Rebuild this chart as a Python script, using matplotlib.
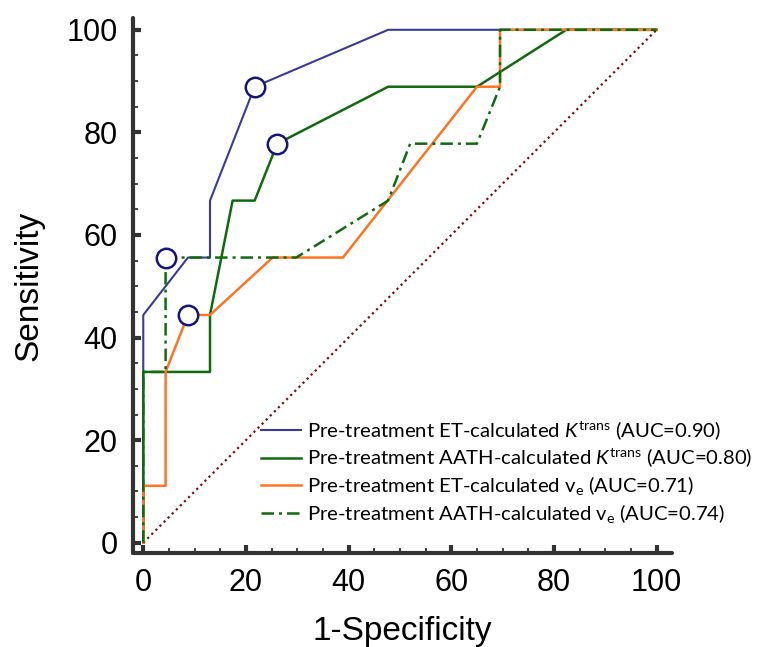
import matplotlib
matplotlib.use('Agg')
import matplotlib.pyplot as plt
from matplotlib.ticker import MultipleLocator

# ROC curves (1-specificity %, sensitivity %)
et_ktrans_x = [0, 0, 8.7, 13.0, 13.0, 21.7, 47.7, 100]
et_ktrans_y = [0, 44.4, 55.6, 55.6, 66.7, 88.9, 100, 100]

aath_ktrans_x = [0, 0, 13.0, 13.0, 17.4, 21.7, 26.1, 47.7, 65.0, 82.4, 100]
aath_ktrans_y = [0, 33.3, 33.3, 44.4, 66.7, 66.7, 77.8, 88.9, 88.9, 100, 100]

et_ve_x = [0, 0, 4.35, 4.35, 8.7, 13.0, 25.2, 38.9, 65.0, 69.5, 69.5, 100]
et_ve_y = [0, 11.1, 11.1, 33.3, 44.4, 44.4, 55.6, 55.6, 88.9, 88.9, 100, 100]

aath_ve_x = [0, 0, 4.35, 4.35, 29.8, 47.7, 52.0, 65.0, 69.5, 69.5, 100]
aath_ve_y = [0, 33.3, 33.3, 55.6, 55.6, 66.7, 77.8, 77.8, 88.9, 100, 100]

# optimal cut-off points
cut_x = [21.7, 26.1, 4.35, 8.7]
cut_y = [88.9, 77.8, 55.6, 44.4]

labels = [
    r'Pre-treatment ET-calculated $\mathit{K}^{\mathrm{trans}}$ (AUC=0.90)',
    r'Pre-treatment AATH-calculated $\mathit{K}^{\mathrm{trans}}$ (AUC=0.80)',
    r'Pre-treatment ET-calculated v$_{\mathrm{e}}$ (AUC=0.71)',
    r'Pre-treatment AATH-calculated v$_{\mathrm{e}}$ (AUC=0.74)',
]

plt.rcParams['font.family'] = ['Liberation Sans', 'DejaVu Sans']
plt.rcParams['mathtext.fontset'] = 'custom'
plt.rcParams['mathtext.rm'] = 'Lato'
plt.rcParams['mathtext.it'] = 'Lato:italic'

fig = plt.figure(figsize=(7.71, 6.47), dpi=100)
ax = fig.add_axes([133/771, 94/647, 539/771, 535/647])

ax.plot([0, 100], [0, 100], color='#7a1010', lw=1.6, ls=(0, (1, 1.6)), zorder=1)
ax.plot(et_ktrans_x, et_ktrans_y, color='#3a3a9c', lw=1.5, label=labels[0], zorder=2)
ax.plot(aath_ktrans_x, aath_ktrans_y, color='#106a10', lw=1.8, label=labels[1], zorder=3)
ax.plot(et_ve_x, et_ve_y, color='#ff7420', lw=1.8, label=labels[2], zorder=4)
ax.plot(aath_ve_x, aath_ve_y, color='#106a10', lw=1.8, ls=(0, (5, 2, 1.2, 2)),
        label=labels[3], zorder=5)
ax.plot(cut_x, cut_y, 'o', ms=14, mfc='white', mec='#14147a', mew=1.8, zorder=6)

ax.set_xlim(-2, 103)
ax.set_ylim(-2, 102.3)
for s in ['top', 'right']:
    ax.spines[s].set_visible(False)
for s in ['left', 'bottom']:
    ax.spines[s].set_linewidth(3)
    ax.spines[s].set_color('#333333')
    ax.spines[s].set_capstyle('round')

ax.xaxis.set_major_locator(MultipleLocator(20))
ax.yaxis.set_major_locator(MultipleLocator(20))
ax.xaxis.set_minor_locator(MultipleLocator(5))
ax.yaxis.set_minor_locator(MultipleLocator(5))
ax.tick_params(which='major', direction='in', length=6, width=3, color='#333333',
               labelsize=22, pad=11)
ax.tick_params(which='minor', direction='in', length=3.5, width=1.3, color='#333333')

ax.set_xlabel('1-Specificity', fontsize=24, labelpad=13)
ax.set_ylabel('Sensitivity', fontsize=24, labelpad=16)

leg = ax.legend(loc='upper left', bbox_to_anchor=(261/771, 1 - 419/647),
                bbox_transform=fig.transFigure, frameon=False,
                prop={'family': 'Lato', 'size': 14.6}, handlelength=1.95,
                handletextpad=0.3, labelspacing=0.24, borderpad=0,
                borderaxespad=0)

fig.savefig('out.png', dpi=100)
